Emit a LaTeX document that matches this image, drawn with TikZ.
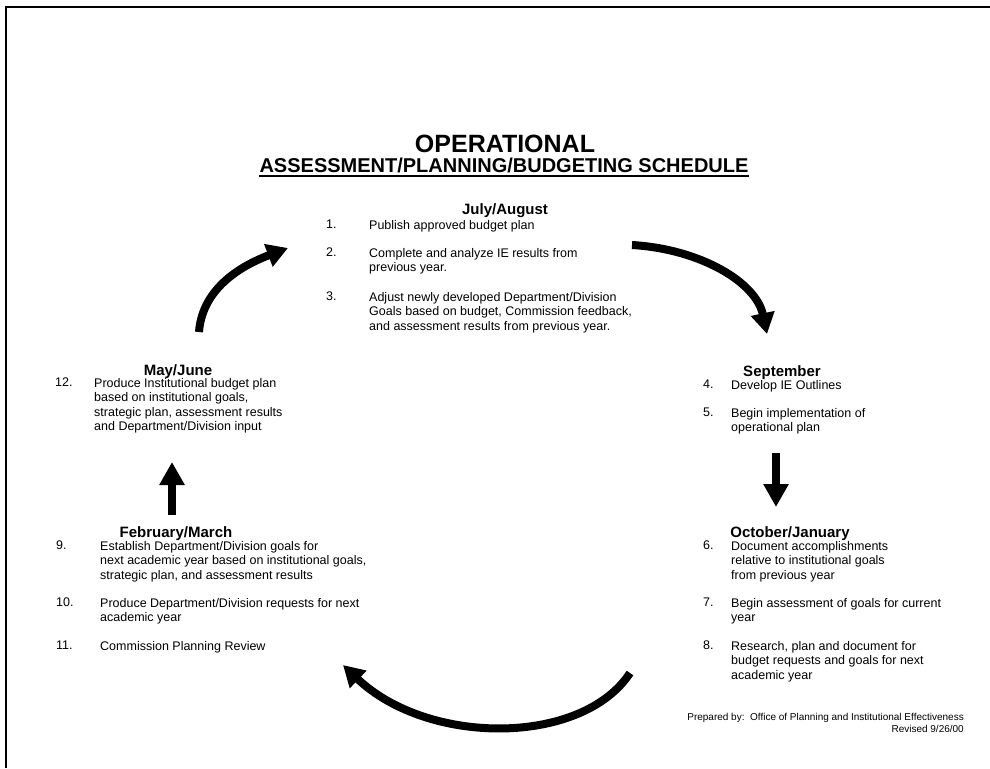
\documentclass[tikz,border=0pt]{standalone}
\usepackage{fontspec}
\setmainfont{Liberation Sans}
\usetikzlibrary{arrows.meta}
\begin{document}
\begin{tikzpicture}[x=1pt,y=-1pt,
  body/.style={anchor=north west, inner sep=0pt, align=left, font=\fontsize{12.5}{14.5}\selectfont},
  num/.style={anchor=north west, inner sep=0pt, font=\fontsize{12.5}{14.5}\selectfont},
  head/.style={anchor=base, inner sep=0pt, font=\fontsize{15}{18}\selectfont\bfseries},
  bigarrow/.style={line width=8pt, -{Triangle[width=23pt,length=21pt]}},
  straightarrow/.style={line width=8pt, -{Triangle[width=24pt,length=23pt]}},
  frame/.style={line width=2.5pt}
]
\useasboundingbox (0,0) rectangle (990,768);
\draw[frame] (6,768) -- (6,7) -- (990,7);

% titles
\node[anchor=base, inner sep=0pt, font=\fontsize{25}{29}\selectfont\bfseries] (title) at (505,152) {OPERATIONAL};
\node[anchor=base, inner sep=0pt, font=\fontsize{20}{24}\selectfont\bfseries] (subtitle) at (504,172) {ASSESSMENT/PLANNING/BUDGETING SCHEDULE};
\draw[line width=1.3pt] (subtitle.base west) ++(0,4) coordinate (ulA) -- (ulA -| subtitle.base east);

% July/August
\node[head] (jul) at (505,214) {July/August};
\node[num] (n1) at (326,220) {1.};
\node[body] (t1) at (369,220) {Publish approved budget plan};
\node[num] (n2) at (326,248) {2.};
\node[body] (t2) at (369,248) {Complete and analyze IE results from\\previous year.};
\node[num] (n3) at (326,292) {3.};
\node[body] (t3) at (369,292) {Adjust newly developed Department/Division\\Goals based on budget, Commission feedback,\\and assessment results from previous year.};

% May/June
\node[head] (may) at (178,375) {May/June};
\node[num] (n12) at (55,378) {12.};
\node[body] (t12) at (94,378) {Produce Institutional budget plan\\based on institutional goals,\\strategic plan, assessment results\\and Department/Division input};

% February/March
\node[head] (feb) at (176,537) {February/March};
\node[num] (n9) at (56,541) {9.};
\node[body] (t9) at (100,541) {Establish Department/Division goals for\\next academic year based on institutional goals,\\strategic plan, and assessment results};
\node[num] (n10) at (56,598) {10.};
\node[body] (t10) at (100,598) {Produce Department/Division requests for next\\academic year};
\node[num] (n11) at (56,641) {11.};
\node[body] (t11) at (100,641) {Commission Planning Review};

% September
\node[head] (sep) at (782,376) {September};
\node[num] (n4) at (703,380) {4.};
\node[body] (t4) at (731,380) {Develop IE Outlines};
\node[num] (n5) at (703,408) {5.};
\node[body] (t5) at (731,408) {Begin implementation of\\operational plan};

% October/January
\node[head] (oct) at (790,537) {October/January};
\node[num] (n6) at (703,541) {6.};
\node[body] (t6) at (731,541) {Document accomplishments\\relative to institutional goals\\from previous year};
\node[num] (n7) at (703,598) {7.};
\node[body] (t7) at (731,598) {Begin assessment of goals for current\\year};
\node[num] (n8) at (703,641) {8.};
\node[body] (t8) at (731,641) {Research, plan and document for\\budget requests and goals for next\\academic year};

% footer
\node[anchor=base east, inner sep=0pt, font=\fontsize{10}{12}\selectfont] (prep) at (964,720) {Prepared by:\ \ Office of Planning and Institutional Effectiveness};
\node[anchor=base east, inner sep=0pt, font=\fontsize{10}{12}\selectfont] (rev) at (964,732) {Revised 9/26/00};

% arrows
\coordinate (a1s) at (199,332);
\coordinate (a1e) at (288,248);
\coordinate (a2s) at (632,245);
\coordinate (a2e) at (767,334);
\coordinate (a3s) at (630,673);
\coordinate (a3e) at (343,665);
\coordinate (a4s) at (776,453);
\coordinate (a4e) at (776,507);
\coordinate (a5s) at (172,515);
\coordinate (a5e) at (172,462);
\draw[bigarrow] (a1s) .. controls (202,292) and (235,268) .. (a1e);
\draw[bigarrow] (a2s) .. controls (700,249) and (756,282) .. (a2e);
\draw[bigarrow] (a3s) .. controls (582,746) and (428,746) .. (a3e);
\draw[straightarrow] (a4s) -- (a4e);
\draw[straightarrow] (a5s) -- (a5e);
\end{tikzpicture}
\end{document}
